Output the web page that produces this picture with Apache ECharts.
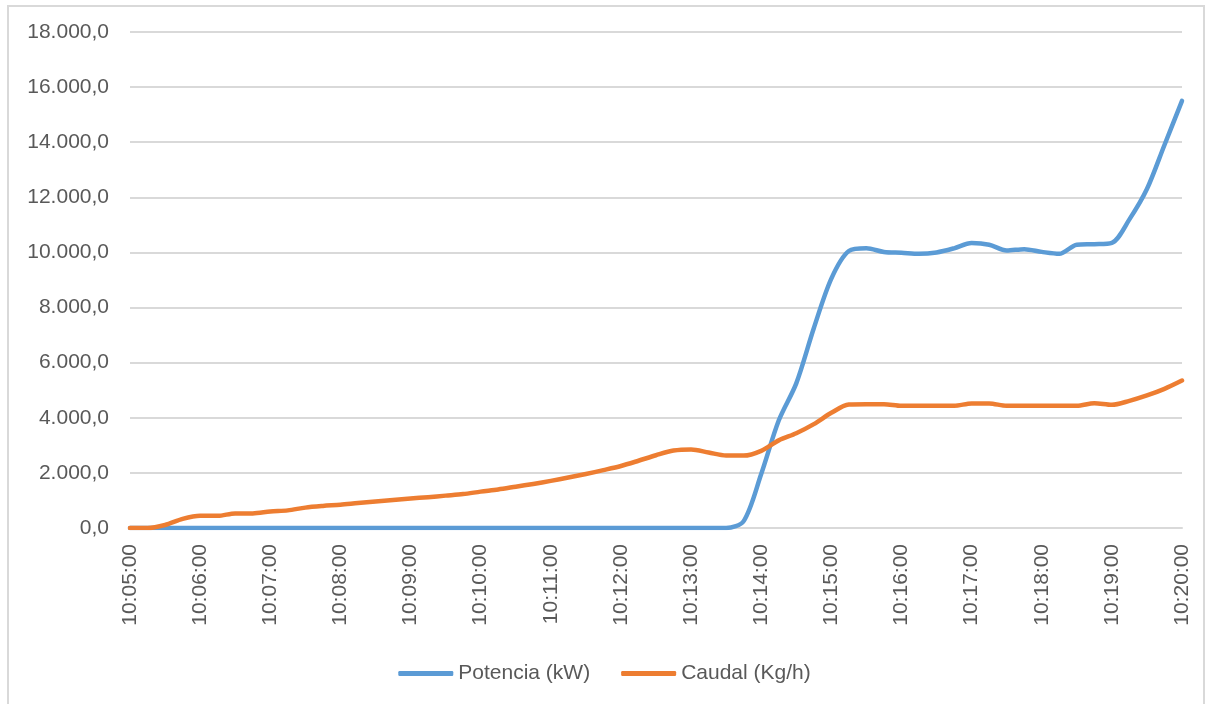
<!DOCTYPE html>
<html>
<head>
<meta charset="utf-8">
<script src="https://cdn.jsdelivr.net/npm/echarts@6/dist/echarts.min.js"></script>
<style>
  html, body { margin: 0; padding: 0; background: #fff; }
  #frame {
    position: absolute; left: 7px; top: 5px;
    width: 1194px; height: 697px;
    border: 2px solid #d9d9d9;
  }
  #chart { position: absolute; left: 0; top: 0; width: 1209px; height: 704px; }
</style>
</head>
<body>
<div id="frame"></div>
<div id="chart"></div>
<script>
  // one sample every 15 seconds, 10:05:00 -> 10:20:00
  var times = []
  for (var s = 0; s <= 15 * 60; s += 15) {
    var mm = 5 + Math.floor(s / 60)
    var ss = s % 60
    times.push('10:' + (mm < 10 ? '0' : '') + mm + ':' + (ss < 10 ? '0' : '') + ss)
  }

  // Potencia (kW)
  var potencia = [
    0, 0, 0, 0, 0, 0, 0, 0, 0, 0,
    0, 0, 0, 0, 0, 0, 0, 0, 0, 0,
    0, 0, 0, 0, 0, 0, 0, 0, 0, 0,
    0, 0, 0, 0, 0, 250, 1960, 3900, 5250, 7250,
    9050, 10050, 10150, 10020, 9990, 9950, 10000, 10150, 10340, 10280,
    10070, 10120, 10020, 9950, 10280, 10300, 10350, 11200, 12300, 13900,
    15500
  ]

  // Caudal (Kg/h)
  var caudal = [
    0, 0, 110, 330, 442, 442, 530, 530, 600, 640,
    740, 800, 845, 905, 960, 1015, 1070, 1120, 1175, 1230,
    1320, 1400, 1500, 1600, 1710, 1830, 1960, 2100, 2250, 2440,
    2640, 2810, 2850, 2740, 2630, 2627, 2800, 3180, 3440, 3770,
    4180, 4480, 4494, 4494, 4434, 4434, 4434, 4434, 4518, 4518,
    4434, 4434, 4434, 4434, 4434, 4530, 4470, 4614, 4810, 5050,
    5350
  ]

  var yTicks = { min: 0, max: 18000, interval: 2000 }

  function fmt (v) {
    return String(v).replace(/\B(?=(\d{3})+(?!\d))/g, '.') + ',0'
  }

  var font = 'Liberation Sans, Arial, sans-serif'
  var chart = echarts.init(document.getElementById('chart'))
  var option = {
    animation: false,
    textStyle: { fontFamily: font },
    grid: { left: 130, right: 27, top: 32, bottom: 176, containLabel: false },
    legend: {
      bottom: 15,
      left: 'center',
      itemWidth: 55,
      itemHeight: 5,
      itemGap: 31,
      icon: 'roundRect',
      textStyle: { fontSize: 21, color: '#595959', fontFamily: font },
      data: ['Potencia (kW)', 'Caudal (Kg/h)']
    },
    xAxis: {
      type: 'category',
      boundaryGap: false,
      data: times,
      axisTick: { show: false },
      axisLine: { lineStyle: { color: '#d9d9d9', width: 2 } },
      axisLabel: {
        interval: 3,
        rotate: 90,
        margin: 16,
        fontSize: 21,
        color: '#595959'
      },
      splitLine: { show: false }
    },
    yAxis: {
      type: 'value',
      min: yTicks.min,
      max: yTicks.max,
      interval: yTicks.interval,
      axisLine: { show: false },
      axisTick: { show: false },
      axisLabel: { formatter: fmt, fontSize: 21, color: '#595959', margin: 21 },
      splitLine: { lineStyle: { color: '#d9d9d9', width: 2 } }
    },
    series: [
      {
        name: 'Potencia (kW)',
        type: 'line',
        data: potencia,
        symbol: 'none',
        smooth: 0.3,
        color: '#5B9BD5',
        lineStyle: { width: 4.5, color: '#5B9BD5', cap: 'round', join: 'round' }
      },
      {
        name: 'Caudal (Kg/h)',
        type: 'line',
        data: caudal,
        symbol: 'none',
        smooth: 0.3,
        color: '#ED7D31',
        lineStyle: { width: 4.5, color: '#ED7D31', cap: 'round', join: 'round' }
      }
    ]
  }
  chart.setOption(option)
</script>
</body>
</html>
